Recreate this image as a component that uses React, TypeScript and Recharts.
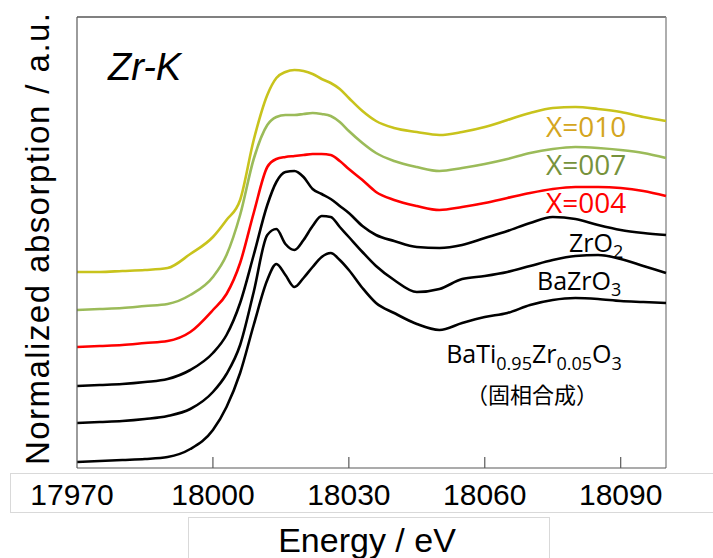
import { LineChart, Line, XAxis, YAxis, CartesianGrid } from "recharts";

// Zr K-edge XANES, curves stacked with vertical offsets (a.u.)
const energies = [
  17970, 17975, 17980, 17985, 17990, 17995, 18000, 18003, 18006, 18009, 18012, 18014, 18016, 18018, 18020,
  18022, 18024, 18026, 18028, 18030, 18033, 18036, 18040, 18045, 18050, 18055, 18060, 18065, 18070, 18075,
  18080, 18085, 18090, 18095, 18100,
];
const x010 = [
  196, 196, 197, 198, 200, 214, 231, 248, 268, 328, 373, 390, 396, 398, 397, 394, 389, 385, 379, 370, 357, 347,
  340, 336, 333, 336, 341, 348, 355, 360, 361, 359, 356, 351, 347,
];
const x007 = [
  158, 159, 160, 162, 164, 173, 191, 213, 253, 309, 343, 351, 353, 353, 354, 355, 354, 352, 346, 337, 325, 315,
  307, 301, 297, 300, 304, 309, 315, 319, 321, 320, 318, 315, 310,
];
const x004 = [
  121, 122, 123, 125, 127, 136, 158, 174, 205, 255, 301, 309, 311, 312, 313, 314, 314, 313, 307, 299, 288, 276,
  268, 262, 258, 261, 265, 270, 275, 279, 281, 281, 280, 277, 272,
];
const zrO2 = [
  82, 83, 84, 86, 89, 98, 115, 133, 165, 213, 263, 286, 296, 297, 291, 279, 274, 269, 262, 255, 242, 233, 227,
  221, 220, 223, 230, 237, 245, 251, 249, 243, 238, 235, 233,
];
const baZrO3 = [
  45, 46, 47, 49, 52, 59, 76, 94, 123, 176, 233, 239, 224, 218, 228, 242, 252, 251, 241, 231, 216, 202, 188,
  176, 179, 189, 192, 196, 202, 208, 212, 213, 209, 202, 195,
];
const btz = [
  6, 7, 8, 9, 11, 19, 38, 61, 95, 143, 188, 204, 193, 181, 190, 201, 211, 215, 208, 198, 180, 165, 155, 144,
  138, 145, 151, 155, 163, 168, 170, 169, 167, 166, 165,
];
const xTicks = [17970, 18000, 18030, 18060, 18090];
const xDomain = [17970, 18100];
const yDomain = [0, 451];

const data = energies.map((e, i) => ({
  e,
  x010: x010[i],
  x007: x007[i],
  x004: x004[i],
  zrO2: zrO2[i],
  baZrO3: baZrO3[i],
  btz: btz[i],
}));

const series = [
  { key: "x010", color: "#c8c31c" },
  { key: "x007", color: "#9bbb59" },
  { key: "x004", color: "#ff0000" },
  { key: "zrO2", color: "#000000" },
  { key: "baZrO3", color: "#000000" },
  { key: "btz", color: "#000000" },
];

const sans = "'Liberation Sans', Arial, sans-serif";
const note = "'Open Sans', 'Noto Sans', sans-serif";

function EnergyTick({ x, payload }: any) {
  const first = payload.value === xTicks[0];
  return (
    <g>
      {!first && <line x1={x} x2={x} y1={468} y2={457} stroke="#595959" strokeWidth={1.2} />}
      <text x={first ? x - 5 : x} y={505} textAnchor="middle" fontFamily={sans} fontSize={30} fill="#000">
        {payload.value}
      </text>
    </g>
  );
}

export default function App() {
  return (
    <div style={{ position: "absolute", left: 0, top: 0, width: 713, height: 558, overflow: "hidden", background: "#fff" }}>
      <div style={{ position: "absolute", left: 10, top: 473, width: 720, height: 38, border: "1px solid #d9d9d9" }} />
      <div style={{ position: "absolute", left: 188, top: 517, width: 360, height: 60, border: "1px solid #d9d9d9" }} />
      {/* top edge of the plot frame */}
      <div style={{ position: "absolute", left: 77, top: 16, width: 589, height: 0, borderTop: "2px solid #808080" }} />
      <LineChart width={713} height={558} data={data} margin={{ top: 17, right: 47, left: 67, bottom: 60 }} style={{ position: "absolute", left: 0, top: 0 }}>
        <CartesianGrid horizontal={false} verticalValues={[xDomain[1]]} stroke="#8c8c8c" strokeWidth={1.4} />
        <XAxis
          dataKey="e"
          type="number"
          domain={xDomain}
          ticks={xTicks}
          height={30}
          tickSize={0}
          tickMargin={0}
          tickLine={false}
          axisLine={{ stroke: "#595959", strokeWidth: 1.2 }}
          tick={<EnergyTick />}
        />
        <YAxis type="number" domain={yDomain} width={10} tick={false} tickLine={false} axisLine={{ stroke: "#595959", strokeWidth: 1.2 }} />
        {series.map((s) => (
          <Line key={s.key} dataKey={s.key} type="monotone" stroke={s.color} strokeWidth={2.6} dot={false} isAnimationActive={false} />
        ))}
      </LineChart>
      <svg width={713} height={558} style={{ position: "absolute", left: 0, top: 0, pointerEvents: "none" }}>
        <text transform="translate(49,239) rotate(-90)" textAnchor="middle" fontFamily={sans} fontSize={33} fill="#000" textLength={452} lengthAdjust="spacing">
          Normalized  absorption  / a.u.
        </text>
        <text x={367} y={552} textAnchor="middle" fontFamily={sans} fontSize={34} fill="#000">
          Energy / eV
        </text>
        <text x={108} y={80} fontFamily={sans} fontStyle="italic" fontSize={38} fill="#000">
          Zr-K
        </text>
        <text x={546} y={137} fontFamily={note} fontSize={28} fill="#d4a520">X=010</text>
        <text x={546} y={175} fontFamily={note} fontSize={28} fill="#76923c">X=007</text>
        <text x={546} y={213} fontFamily={note} fontSize={28} fill="#ff0000">X=004</text>
        <text x={569} y={252} fontFamily={note} fontSize={25} fill="#000">
          ZrO<tspan fontSize={18} dy={6}>2</tspan>
        </text>
        <text x={537} y={290} fontFamily={note} fontSize={25} fill="#000">
          BaZrO<tspan fontSize={18} dy={6}>3</tspan>
        </text>
        <text x={534} y={363} textAnchor="middle" fontFamily={note} fontSize={25} fill="#000">
          BaTi<tspan fontSize={18} dy={7}>0.95</tspan>
          <tspan dy={-7}>Zr</tspan>
          <tspan fontSize={18} dy={7}>0.05</tspan>
          <tspan dy={-7}>O</tspan>
          <tspan fontSize={18} dy={7}>3</tspan>
        </text>
        <text x={532} y={403} textAnchor="middle" fontFamily="'Noto Sans CJK JP', sans-serif" fontSize={22} fill="#000">
          （固相合成）
        </text>
      </svg>
    </div>
  );
}
